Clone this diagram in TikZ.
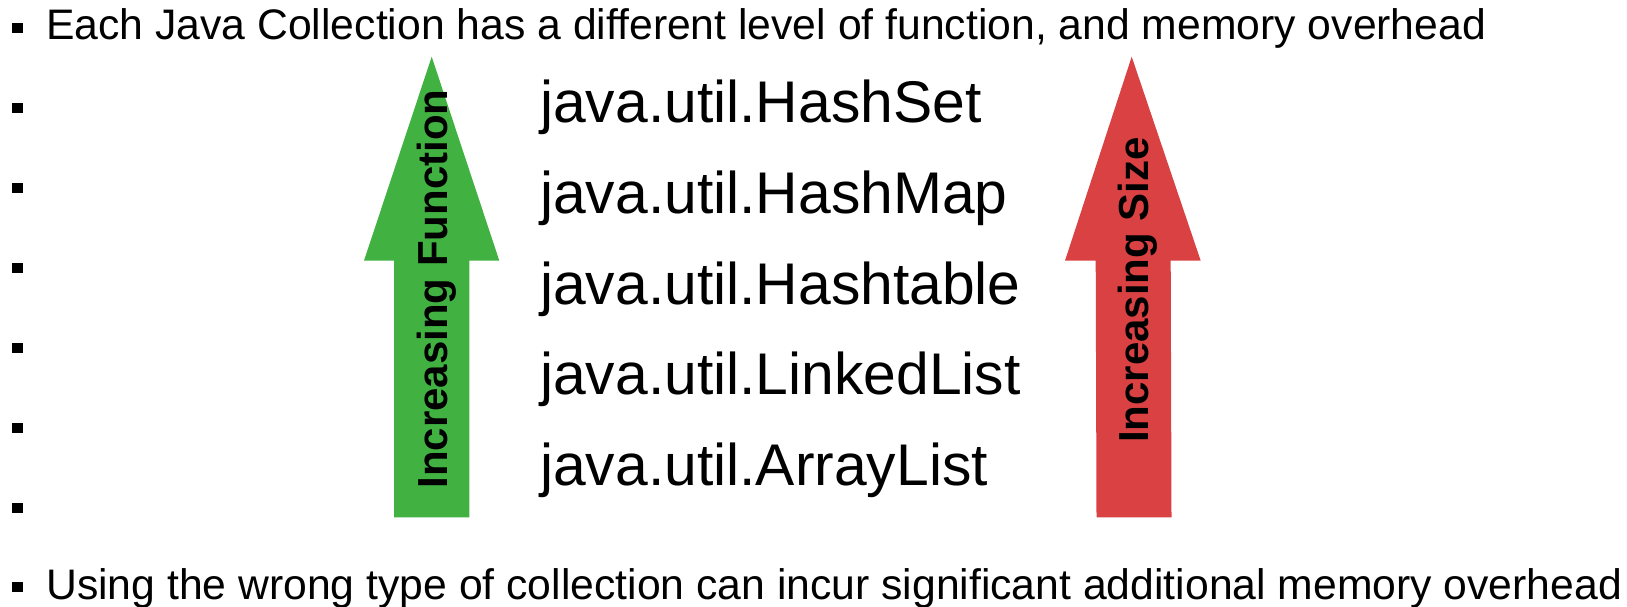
\documentclass[tikz,border=0pt]{standalone}
\usepackage{fontspec}
\setmainfont{Liberation Sans}
\definecolor{arrgreen}{RGB}{65,178,66}
\definecolor{arrred}{RGB}{218,65,66}
\begin{document}
\begin{tikzpicture}[x=1pt,y=-1pt,
  bulletbox/.style={fill=black},
  bodytext/.style={anchor=base west,inner sep=0pt,font=\fontsize{42.7}{50}\selectfont},
  listtext/.style={anchor=base west,inner sep=0pt,font=\fontsize{58.8}{64}\selectfont},
  arrowlabel/.style={anchor=base,inner sep=0pt,rotate=90,font=\fontsize{42}{50}\selectfont\bfseries}]
\useasboundingbox (0,0) rectangle (1627,606);
\fill[white] (0,0) rectangle (1627,606);
% bullets
\foreach \yy in {23.3,102.7,182.7,262.7,342.7,422.7,502.7,581.7}
  \fill[bulletbox] (12,\yy) rectangle ++(10.7,10);
% arrows
\fill[arrgreen] (394,517.3) -- (394,260.7) -- (364,260.7) -- (431.7,56.7)
  -- (499.3,260.7) -- (469.3,260.7) -- (469.3,517.3) -- cycle;
\fill[arrred] (1096.5,517.3) -- (1095.7,260.7) -- (1065,260.7) -- (1131.7,56.7)
  -- (1200.7,260.7) -- (1170.7,260.7) -- (1171.5,517.3) -- cycle;
\node[arrowlabel] (lf) at (447,289) {Increasing Function};
\node[arrowlabel] (ls) at (1148,290) {Increasing Size};
% texts
\node[bodytext] (top) at (46,39.3) {Each Java Collection has a different level of function, and memory overhead};
\node[bodytext] (bot) at (46,599) {Using the wrong type of collection can incur significant additional memory overhead};
\node[listtext] (l1) at (540,122.5) {java.util.HashSet};
\node[listtext] (l2) at (540,213.3) {java.util.HashMap};
\node[listtext] (l3) at (540,304.1) {java.util.Hashtable};
\node[listtext] (l4) at (540,394.9) {java.util.LinkedList};
\node[listtext] (l5) at (540,485.7) {java.util.ArrayList};
\end{tikzpicture}
\end{document}
